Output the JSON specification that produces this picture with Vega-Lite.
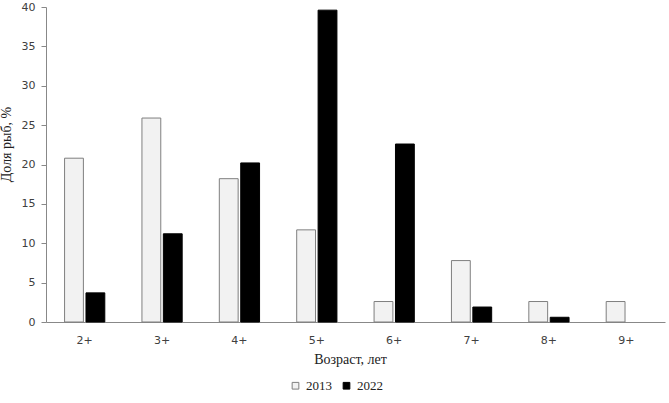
{
  "$schema": "https://vega.github.io/schema/vega-lite/v6.json",
  "width": 619,
  "height": 315,
  "autosize": {"type": "none"},
  "padding": {"left": 46, "top": 7, "right": 4, "bottom": 81},
  "background": "white",
  "data": {
    "values": [
      {"age": "2+", "year": "2013", "share": 20.8},
      {"age": "2+", "year": "2022", "share": 3.7},
      {"age": "3+", "year": "2013", "share": 25.9},
      {"age": "3+", "year": "2022", "share": 11.2},
      {"age": "4+", "year": "2013", "share": 18.2},
      {"age": "4+", "year": "2022", "share": 20.2},
      {"age": "5+", "year": "2013", "share": 11.7},
      {"age": "5+", "year": "2022", "share": 39.6},
      {"age": "6+", "year": "2013", "share": 2.6},
      {"age": "6+", "year": "2022", "share": 22.6},
      {"age": "7+", "year": "2013", "share": 7.8},
      {"age": "7+", "year": "2022", "share": 1.9},
      {"age": "8+", "year": "2013", "share": 2.6},
      {"age": "8+", "year": "2022", "share": 0.6},
      {"age": "9+", "year": "2013", "share": 2.6}
    ]
  },
  "mark": {"type": "bar", "strokeWidth": 1},
  "encoding": {
    "x": {
      "field": "age", "type": "nominal",
      "scale": {"paddingInner": 0.48, "paddingOuter": 0.24},
      "axis": {
        "title": "Возраст, лет", "labelAngle": 0, "ticks": false,
        "domainColor": "#888888", "labelFont": "DejaVu Sans", "labelFontSize": 11,
        "labelColor": "#404040", "labelPadding": 12,
        "titleFont": "Liberation Serif", "titleFontSize": 14, "titleFontWeight": "normal",
        "titleColor": "#222222", "titlePadding": 7, "titleX": 304
      }
    },
    "xOffset": {"field": "year", "type": "nominal", "scale": {"paddingInner": 0.12}},
    "y": {
      "field": "share", "type": "quantitative",
      "scale": {"domain": [0, 40]},
      "axis": {
        "title": "Доля рыб, %", "values": [0, 5, 10, 15, 20, 25, 30, 35, 40],
        "grid": false, "tickSize": 5, "tickColor": "#888888", "domainColor": "#888888",
        "labelFont": "DejaVu Sans", "labelFontSize": 11, "labelColor": "#404040",
        "labelPadding": 6,
        "titleFont": "Liberation Serif", "titleFontSize": 14, "titleFontWeight": "normal",
        "titleColor": "#222222", "titlePadding": 8, "titleY": 137
      }
    },
    "fill": {
      "field": "year", "type": "nominal",
      "scale": {"domain": ["2013", "2022"], "range": ["#f2f2f2", "#000000"]},
      "legend": {
        "title": null, "orient": "none", "direction": "horizontal",
        "legendX": 243, "legendY": 372,
        "symbolType": "square", "symbolSize": 45, "symbolStrokeWidth": 1,
        "labelFont": "Liberation Serif", "labelFontSize": 13, "labelColor": "#222222",
        "labelOffset": 4, "columnPadding": 8
      }
    },
    "stroke": {
      "field": "year", "type": "nominal",
      "scale": {"domain": ["2013", "2022"], "range": ["#7f7f7f", "#000000"]},
      "legend": null
    }
  },
  "config": {"view": {"stroke": null}}
}
